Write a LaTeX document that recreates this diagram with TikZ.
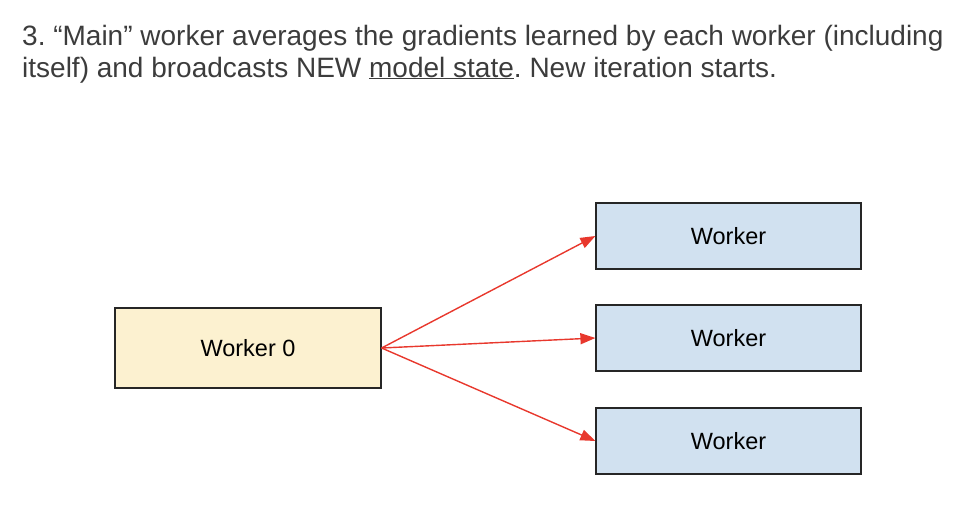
\documentclass[tikz,border=0pt]{standalone}
\usepackage{fontspec}
\setmainfont{Liberation Sans}
\usepackage{xcolor}
\usepackage{tikz}
\usetikzlibrary{arrows.meta}

\definecolor{textgray}{HTML}{3C3C3C}
\definecolor{mainfill}{HTML}{FCF1D0}
\definecolor{workfill}{HTML}{D1E1F0}
\definecolor{arrowred}{HTML}{E8382D}

\tikzset{
  box/.style={draw=black!85, line width=1.2pt, minimum width=265pt, minimum height=66pt, inner sep=0pt, font=\fontsize{23.5}{28}\selectfont},
  mainbox/.style={box, fill=mainfill, minimum width=266pt, minimum height=80pt},
  workbox/.style={box, fill=workfill},
  bcast/.style={draw=arrowred, line width=1.4pt, -{Triangle[length=15pt,width=11pt]}}
}

\begin{document}
\frenchspacing
\begin{tikzpicture}[x=1pt,y=-1pt]
\useasboundingbox (0,0) rectangle (978,512);

% heading (anchored on the baseline of its last line)
\node[anchor=base west, inner sep=0pt, align=left, text=textgray,
      font=\fontsize{28}{32}\selectfont] (title) at (22,77)
  {3. ``Main'' worker averages the gradients learned by each worker (including\\
   itself) and broadcasts NEW \underline{model state}. New iteration starts.};

% workers
\node[mainbox] (w0) at (248,348) {Worker 0};
\node[workbox] (w1) at (728.5,236) {Worker};
\node[workbox] (w2) at (728.5,338) {Worker};
\node[workbox] (w3) at (728.5,441) {Worker};

% broadcast of the new state
\draw[bcast] (w0.east) -- (w1.west);
\draw[bcast] (w0.east) -- (w2.west);
\draw[bcast] (w0.east) -- (w3.west);
\end{tikzpicture}
\end{document}
